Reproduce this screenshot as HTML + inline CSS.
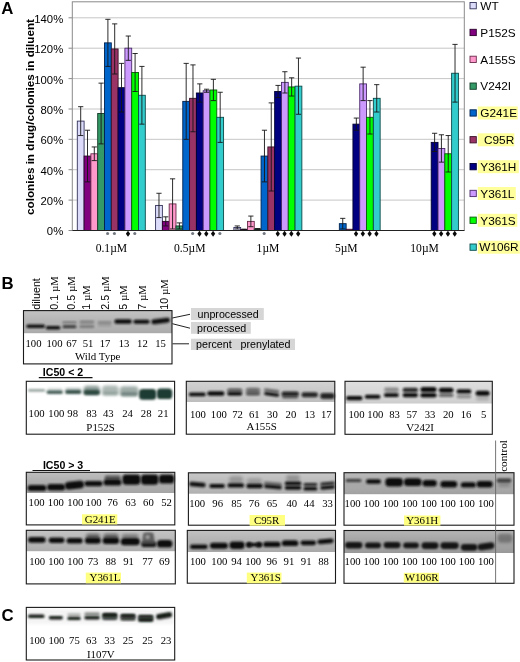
<!DOCTYPE html>
<html><head><meta charset="utf-8"><title>Figure</title>
<style>
html,body{margin:0;padding:0;background:#fff;}
body{width:520px;height:662px;overflow:hidden;font-family:"Liberation Sans",sans-serif;}
svg{display:block;filter:blur(0.4px)}
.s{font-family:"Liberation Sans",sans-serif;}
.sb{font-family:"Liberation Sans",sans-serif;font-weight:bold;}
.t{font-family:"Liberation Serif",serif;}
</style></head><body>
<svg width="520" height="662" viewBox="0 0 520 662">
<defs>
<linearGradient id="gg" x1="0" y1="0" x2="0" y2="1"><stop offset="0" stop-color="#fff" stop-opacity=".22"/><stop offset=".55" stop-color="#fff" stop-opacity="0"/><stop offset="1" stop-color="#000" stop-opacity=".05"/></linearGradient>
<filter id="b1" x="-20%" y="-50%" width="140%" height="200%"><feGaussianBlur stdDeviation="0.9"/></filter>
<filter id="b2" x="-20%" y="-50%" width="140%" height="200%"><feGaussianBlur stdDeviation="1.5"/></filter>
<filter id="b3" x="-20%" y="-50%" width="140%" height="200%"><feGaussianBlur stdDeviation="1.8"/></filter>
</defs>
<rect x="0" y="0" width="520" height="662" fill="#fff"/>
<line x1="72.3" y1="200.1" x2="464.3" y2="200.1" stroke="#c6c6c6" stroke-width="1"/>
<line x1="72.3" y1="169.7" x2="464.3" y2="169.7" stroke="#c6c6c6" stroke-width="1"/>
<line x1="72.3" y1="139.3" x2="464.3" y2="139.3" stroke="#c6c6c6" stroke-width="1"/>
<line x1="72.3" y1="109.0" x2="464.3" y2="109.0" stroke="#c6c6c6" stroke-width="1"/>
<line x1="72.3" y1="78.6" x2="464.3" y2="78.6" stroke="#c6c6c6" stroke-width="1"/>
<line x1="72.3" y1="48.2" x2="464.3" y2="48.2" stroke="#c6c6c6" stroke-width="1"/>
<line x1="72.3" y1="17.8" x2="464.3" y2="17.8" stroke="#c6c6c6" stroke-width="1"/>
<rect x="72.3" y="1.8" width="392.0" height="228.7" fill="none" stroke="#8a8a8a" stroke-width="1"/>
<rect x="77.30" y="121.11" width="6.80" height="109.39" fill="#DCDCFA" stroke="#33335a" stroke-width="0.9"/>
<rect x="84.10" y="156.06" width="6.80" height="74.44" fill="#800080" stroke="#2a002a" stroke-width="0.9"/>
<rect x="90.90" y="153.78" width="6.80" height="76.72" fill="#FF99CC" stroke="#6a2a4a" stroke-width="0.9"/>
<rect x="97.70" y="113.52" width="6.80" height="116.98" fill="#339966" stroke="#103a25" stroke-width="0.9"/>
<rect x="104.50" y="42.87" width="6.80" height="187.63" fill="#0066CC" stroke="#00224d" stroke-width="0.9"/>
<rect x="111.30" y="48.95" width="6.80" height="181.55" fill="#993366" stroke="#3a1026" stroke-width="0.9"/>
<rect x="118.10" y="87.69" width="6.80" height="142.81" fill="#000080" stroke="#000030" stroke-width="0.9"/>
<rect x="124.90" y="48.19" width="6.80" height="182.31" fill="#CC99FF" stroke="#4a2a6a" stroke-width="0.9"/>
<rect x="131.70" y="72.49" width="6.80" height="158.01" fill="#00FF00" stroke="#0a5a0a" stroke-width="0.9"/>
<rect x="138.50" y="95.28" width="6.80" height="135.22" fill="#33CCCC" stroke="#0a4a4a" stroke-width="0.9"/>
<path d="M80.70 106.68V135.54M78.10 106.68H83.30M78.10 135.54H83.30" stroke="#151515" stroke-width="0.9" fill="none"/>
<path d="M87.50 130.23V181.88M84.90 130.23H90.10M84.90 181.88H90.10" stroke="#151515" stroke-width="0.9" fill="none"/>
<path d="M94.30 146.94V160.61M91.70 146.94H96.90M91.70 160.61H96.90" stroke="#151515" stroke-width="0.9" fill="none"/>
<path d="M101.10 83.13V143.90M98.50 83.13H103.70M98.50 143.90H103.70" stroke="#151515" stroke-width="0.9" fill="none"/>
<path d="M107.90 19.32V66.42M105.30 19.32H110.50M105.30 66.42H110.50" stroke="#151515" stroke-width="0.9" fill="none"/>
<path d="M114.70 23.88V74.01M112.10 23.88H117.30M112.10 74.01H117.30" stroke="#151515" stroke-width="0.9" fill="none"/>
<path d="M121.50 63.38V112.00M118.90 63.38H124.10M118.90 112.00H124.10" stroke="#151515" stroke-width="0.9" fill="none"/>
<path d="M128.30 36.03V60.34M125.70 36.03H130.90M125.70 60.34H130.90" stroke="#151515" stroke-width="0.9" fill="none"/>
<path d="M135.10 53.50V91.49M132.50 53.50H137.70M132.50 91.49H137.70" stroke="#151515" stroke-width="0.9" fill="none"/>
<path d="M141.90 66.42V124.15M139.30 66.42H144.50M139.30 124.15H144.50" stroke="#151515" stroke-width="0.9" fill="none"/>
<rect x="155.58" y="205.43" width="6.80" height="25.07" fill="#DCDCFA" stroke="#33335a" stroke-width="0.9"/>
<rect x="162.38" y="221.38" width="6.80" height="9.12" fill="#800080" stroke="#2a002a" stroke-width="0.9"/>
<rect x="169.18" y="203.91" width="6.80" height="26.59" fill="#FF99CC" stroke="#6a2a4a" stroke-width="0.9"/>
<rect x="175.98" y="225.94" width="6.80" height="4.56" fill="#339966" stroke="#103a25" stroke-width="0.9"/>
<rect x="182.78" y="101.36" width="6.80" height="129.14" fill="#0066CC" stroke="#00224d" stroke-width="0.9"/>
<rect x="189.58" y="98.32" width="6.80" height="132.18" fill="#993366" stroke="#3a1026" stroke-width="0.9"/>
<rect x="196.38" y="93.00" width="6.80" height="137.50" fill="#000080" stroke="#000030" stroke-width="0.9"/>
<rect x="203.18" y="90.73" width="6.80" height="139.77" fill="#CC99FF" stroke="#4a2a6a" stroke-width="0.9"/>
<rect x="209.98" y="89.97" width="6.80" height="140.53" fill="#00FF00" stroke="#0a5a0a" stroke-width="0.9"/>
<rect x="216.78" y="117.31" width="6.80" height="113.19" fill="#33CCCC" stroke="#0a4a4a" stroke-width="0.9"/>
<path d="M158.98 193.28V217.59M156.38 193.28H161.58M156.38 217.59H161.58" stroke="#151515" stroke-width="0.9" fill="none"/>
<path d="M165.78 216.83V225.94M163.18 216.83H168.38M163.18 225.94H168.38" stroke="#151515" stroke-width="0.9" fill="none"/>
<path d="M172.58 178.84V228.98M169.98 178.84H175.18M169.98 228.98H175.18" stroke="#151515" stroke-width="0.9" fill="none"/>
<path d="M179.38 222.90V228.98M176.78 222.90H181.98M176.78 228.98H181.98" stroke="#151515" stroke-width="0.9" fill="none"/>
<path d="M186.18 63.38V139.34M183.58 63.38H188.78M183.58 139.34H188.78" stroke="#151515" stroke-width="0.9" fill="none"/>
<path d="M192.98 64.90V131.75M190.38 64.90H195.58M190.38 131.75H195.58" stroke="#151515" stroke-width="0.9" fill="none"/>
<path d="M199.78 83.89V102.12M197.18 83.89H202.38M197.18 102.12H202.38" stroke="#151515" stroke-width="0.9" fill="none"/>
<path d="M206.58 89.21V92.25M203.98 89.21H209.18M203.98 92.25H209.18" stroke="#151515" stroke-width="0.9" fill="none"/>
<path d="M213.38 79.33V100.60M210.78 79.33H215.98M210.78 100.60H215.98" stroke="#151515" stroke-width="0.9" fill="none"/>
<path d="M220.18 92.25V142.38M217.58 92.25H222.78M217.58 142.38H222.78" stroke="#151515" stroke-width="0.9" fill="none"/>
<rect x="233.86" y="227.46" width="6.80" height="3.04" fill="#DCDCFA" stroke="#33335a" stroke-width="0.9"/>
<rect x="240.66" y="229.59" width="6.80" height="0.91" fill="#800080" stroke="#2a002a" stroke-width="0.9"/>
<rect x="247.46" y="221.38" width="6.80" height="9.12" fill="#FF99CC" stroke="#6a2a4a" stroke-width="0.9"/>
<rect x="254.26" y="228.98" width="6.80" height="1.52" fill="#339966" stroke="#103a25" stroke-width="0.9"/>
<rect x="261.06" y="156.06" width="6.80" height="74.44" fill="#0066CC" stroke="#00224d" stroke-width="0.9"/>
<rect x="267.86" y="146.94" width="6.80" height="83.56" fill="#993366" stroke="#3a1026" stroke-width="0.9"/>
<rect x="274.66" y="91.49" width="6.80" height="139.01" fill="#000080" stroke="#000030" stroke-width="0.9"/>
<rect x="281.46" y="82.37" width="6.80" height="148.13" fill="#CC99FF" stroke="#4a2a6a" stroke-width="0.9"/>
<rect x="288.26" y="86.93" width="6.80" height="143.57" fill="#00FF00" stroke="#0a5a0a" stroke-width="0.9"/>
<rect x="295.06" y="86.17" width="6.80" height="144.33" fill="#33CCCC" stroke="#0a4a4a" stroke-width="0.9"/>
<path d="M237.26 225.94V228.98M234.66 225.94H239.86M234.66 228.98H239.86" stroke="#151515" stroke-width="0.9" fill="none"/>
<path d="M244.06 229.13V230.04M241.46 229.13H246.66M241.46 230.04H246.66" stroke="#151515" stroke-width="0.9" fill="none"/>
<path d="M250.86 216.07V226.70M248.26 216.07H253.46M248.26 226.70H253.46" stroke="#151515" stroke-width="0.9" fill="none"/>
<path d="M257.66 228.52V229.44M255.06 228.52H260.26M255.06 229.44H260.26" stroke="#151515" stroke-width="0.9" fill="none"/>
<path d="M264.46 130.23V181.88M261.86 130.23H267.06M261.86 181.88H267.06" stroke="#151515" stroke-width="0.9" fill="none"/>
<path d="M271.26 102.88V191.00M268.66 102.88H273.86M268.66 191.00H273.86" stroke="#151515" stroke-width="0.9" fill="none"/>
<path d="M278.06 85.41V97.56M275.46 85.41H280.66M275.46 97.56H280.66" stroke="#151515" stroke-width="0.9" fill="none"/>
<path d="M284.86 71.73V93.00M282.26 71.73H287.46M282.26 93.00H287.46" stroke="#151515" stroke-width="0.9" fill="none"/>
<path d="M291.66 77.81V96.04M289.06 77.81H294.26M289.06 96.04H294.26" stroke="#151515" stroke-width="0.9" fill="none"/>
<path d="M298.46 58.06V114.27M295.86 58.06H301.06M295.86 114.27H301.06" stroke="#151515" stroke-width="0.9" fill="none"/>
<rect x="339.34" y="223.66" width="6.80" height="6.84" fill="#0066CC" stroke="#00224d" stroke-width="0.9"/>
<rect x="346.14" y="229.28" width="6.80" height="1.22" fill="#993366" stroke="#3a1026" stroke-width="0.9"/>
<rect x="352.94" y="124.15" width="6.80" height="106.35" fill="#000080" stroke="#000030" stroke-width="0.9"/>
<rect x="359.74" y="83.89" width="6.80" height="146.61" fill="#CC99FF" stroke="#4a2a6a" stroke-width="0.9"/>
<rect x="366.54" y="117.31" width="6.80" height="113.19" fill="#00FF00" stroke="#0a5a0a" stroke-width="0.9"/>
<rect x="373.34" y="98.32" width="6.80" height="132.18" fill="#33CCCC" stroke="#0a4a4a" stroke-width="0.9"/>
<path d="M342.74 218.35V228.98M340.14 218.35H345.34M340.14 228.98H345.34" stroke="#151515" stroke-width="0.9" fill="none"/>
<path d="M356.34 118.07V130.23M353.74 118.07H358.94M353.74 130.23H358.94" stroke="#151515" stroke-width="0.9" fill="none"/>
<path d="M363.14 67.18V100.60M360.54 67.18H365.74M360.54 100.60H365.74" stroke="#151515" stroke-width="0.9" fill="none"/>
<path d="M369.94 100.60V134.03M367.34 100.60H372.54M367.34 134.03H372.54" stroke="#151515" stroke-width="0.9" fill="none"/>
<path d="M376.74 84.65V112.00M374.14 84.65H379.34M374.14 112.00H379.34" stroke="#151515" stroke-width="0.9" fill="none"/>
<rect x="431.22" y="142.38" width="6.80" height="88.12" fill="#000080" stroke="#000030" stroke-width="0.9"/>
<rect x="438.02" y="148.46" width="6.80" height="82.04" fill="#CC99FF" stroke="#4a2a6a" stroke-width="0.9"/>
<rect x="444.82" y="153.78" width="6.80" height="76.72" fill="#00FF00" stroke="#0a5a0a" stroke-width="0.9"/>
<rect x="451.62" y="73.25" width="6.80" height="157.25" fill="#33CCCC" stroke="#0a4a4a" stroke-width="0.9"/>
<path d="M434.62 133.27V151.50M432.02 133.27H437.22M432.02 151.50H437.22" stroke="#151515" stroke-width="0.9" fill="none"/>
<path d="M441.42 134.79V162.13M438.82 134.79H444.02M438.82 162.13H444.02" stroke="#151515" stroke-width="0.9" fill="none"/>
<path d="M448.22 135.54V172.01M445.62 135.54H450.82M445.62 172.01H450.82" stroke="#151515" stroke-width="0.9" fill="none"/>
<path d="M455.02 44.39V102.12M452.42 44.39H457.62M452.42 102.12H457.62" stroke="#151515" stroke-width="0.9" fill="none"/>
<line x1="72.3" y1="230.5" x2="464.3" y2="230.5" stroke="#222" stroke-width="1"/>
<circle cx="107.60" cy="233.50" r="1.55" fill="#727882"/>
<circle cx="114.40" cy="233.50" r="1.55" fill="#727882"/>
<path d="M128.00 230.80L130.15 233.80L128.00 236.80L125.85 233.80Z" fill="#0a0a0a"/>
<circle cx="134.80" cy="233.50" r="1.55" fill="#727882"/>
<circle cx="192.68" cy="233.50" r="1.55" fill="#727882"/>
<path d="M199.48 230.80L201.63 233.80L199.48 236.80L197.33 233.80Z" fill="#0a0a0a"/>
<path d="M206.28 230.80L208.43 233.80L206.28 236.80L204.13 233.80Z" fill="#0a0a0a"/>
<path d="M213.08 230.80L215.23 233.80L213.08 236.80L210.93 233.80Z" fill="#0a0a0a"/>
<circle cx="219.88" cy="233.50" r="1.55" fill="#727882"/>
<circle cx="264.16" cy="233.50" r="1.55" fill="#727882"/>
<path d="M277.76 230.80L279.91 233.80L277.76 236.80L275.61 233.80Z" fill="#0a0a0a"/>
<path d="M284.56 230.80L286.71 233.80L284.56 236.80L282.41 233.80Z" fill="#0a0a0a"/>
<path d="M291.36 230.80L293.51 233.80L291.36 236.80L289.21 233.80Z" fill="#0a0a0a"/>
<path d="M298.16 230.80L300.31 233.80L298.16 236.80L296.01 233.80Z" fill="#0a0a0a"/>
<path d="M356.04 230.80L358.19 233.80L356.04 236.80L353.89 233.80Z" fill="#0a0a0a"/>
<path d="M362.84 230.80L364.99 233.80L362.84 236.80L360.69 233.80Z" fill="#0a0a0a"/>
<path d="M369.64 230.80L371.79 233.80L369.64 236.80L367.49 233.80Z" fill="#0a0a0a"/>
<path d="M376.44 230.80L378.59 233.80L376.44 236.80L374.29 233.80Z" fill="#0a0a0a"/>
<path d="M434.32 230.80L436.47 233.80L434.32 236.80L432.17 233.80Z" fill="#0a0a0a"/>
<path d="M441.12 230.80L443.27 233.80L441.12 236.80L438.97 233.80Z" fill="#0a0a0a"/>
<path d="M447.92 230.80L450.07 233.80L447.92 236.80L445.77 233.80Z" fill="#0a0a0a"/>
<path d="M454.72 230.80L456.87 233.80L454.72 236.80L452.57 233.80Z" fill="#0a0a0a"/>
<text x="63.2" y="235.4" class="s" font-size="11.3" text-anchor="end" fill="#000" >0%</text>
<line x1="68.5" y1="230.5" x2="72.3" y2="230.5" stroke="#8a8a8a" stroke-width="1"/>
<text x="63.2" y="205.0" class="s" font-size="11.3" text-anchor="end" fill="#000" >20%</text>
<line x1="68.5" y1="200.1" x2="72.3" y2="200.1" stroke="#8a8a8a" stroke-width="1"/>
<text x="63.2" y="174.6" class="s" font-size="11.3" text-anchor="end" fill="#000" >40%</text>
<line x1="68.5" y1="169.7" x2="72.3" y2="169.7" stroke="#8a8a8a" stroke-width="1"/>
<text x="63.2" y="144.2" class="s" font-size="11.3" text-anchor="end" fill="#000" >60%</text>
<line x1="68.5" y1="139.3" x2="72.3" y2="139.3" stroke="#8a8a8a" stroke-width="1"/>
<text x="63.2" y="113.9" class="s" font-size="11.3" text-anchor="end" fill="#000" >80%</text>
<line x1="68.5" y1="109.0" x2="72.3" y2="109.0" stroke="#8a8a8a" stroke-width="1"/>
<text x="63.2" y="83.5" class="s" font-size="11.3" text-anchor="end" fill="#000" >100%</text>
<line x1="68.5" y1="78.6" x2="72.3" y2="78.6" stroke="#8a8a8a" stroke-width="1"/>
<text x="63.2" y="53.1" class="s" font-size="11.3" text-anchor="end" fill="#000" >120%</text>
<line x1="68.5" y1="48.2" x2="72.3" y2="48.2" stroke="#8a8a8a" stroke-width="1"/>
<text x="63.2" y="22.7" class="s" font-size="11.3" text-anchor="end" fill="#000" >140%</text>
<line x1="68.5" y1="17.8" x2="72.3" y2="17.8" stroke="#8a8a8a" stroke-width="1"/>
<text class="sb" font-size="11.8" fill="#000" text-anchor="middle" textLength="196" lengthAdjust="spacingAndGlyphs" transform="translate(33.8,117) rotate(-90)">colonies in drug/colonies in diluent</text>
<text x="1.3" y="13.6" class="sb" font-size="16.8" text-anchor="start" fill="#000" >A</text>
<text x="111.4" y="251.5" class="t" font-size="11.6" text-anchor="middle" fill="#000" >0.1µM</text>
<text x="189.7" y="251.5" class="t" font-size="11.6" text-anchor="middle" fill="#000" >0.5µM</text>
<text x="268.0" y="251.5" class="t" font-size="11.6" text-anchor="middle" fill="#000" >1µM</text>
<text x="346.3" y="251.5" class="t" font-size="11.6" text-anchor="middle" fill="#000" >5µM</text>
<text x="424.6" y="251.5" class="t" font-size="11.6" text-anchor="middle" fill="#000" >10µM</text>
<rect x="470" y="2.5" width="6.3" height="6.3" fill="#DCDCFA" stroke="#33335a" stroke-width="0.9"/>
<text x="480.3" y="9.9" class="s" font-size="11.8" text-anchor="start" fill="#000" >WT</text>
<rect x="470" y="29.3" width="6.3" height="6.3" fill="#800080" stroke="#2a002a" stroke-width="0.9"/>
<text x="480.3" y="36.7" class="s" font-size="11.8" text-anchor="start" fill="#000" >P152S</text>
<rect x="470" y="56.2" width="6.3" height="6.3" fill="#FF99CC" stroke="#6a2a4a" stroke-width="0.9"/>
<text x="480.3" y="63.6" class="s" font-size="11.8" text-anchor="start" fill="#000" >A155S</text>
<rect x="470" y="83.0" width="6.3" height="6.3" fill="#339966" stroke="#103a25" stroke-width="0.9"/>
<text x="480.3" y="90.4" class="s" font-size="11.8" text-anchor="start" fill="#000" >V242I</text>
<rect x="477.8" y="106.5" width="40" height="13" fill="#FFFF9C"/>
<rect x="470" y="109.8" width="6.3" height="6.3" fill="#0066CC" stroke="#00224d" stroke-width="0.9"/>
<text x="480.3" y="117.2" class="s" font-size="11.8" text-anchor="start" fill="#000" >G241E</text>
<rect x="477.8" y="133.3" width="36.5" height="13" fill="#FFFF9C"/>
<rect x="470" y="136.6" width="6.3" height="6.3" fill="#993366" stroke="#3a1026" stroke-width="0.9"/>
<text x="484" y="144.0" class="s" font-size="11.8" text-anchor="start" fill="#000" >C95R</text>
<rect x="477.8" y="160.2" width="41" height="13" fill="#FFFF9C"/>
<rect x="470" y="163.5" width="6.3" height="6.3" fill="#000080" stroke="#000030" stroke-width="0.9"/>
<text x="480.3" y="170.9" class="s" font-size="11.8" text-anchor="start" fill="#000" >Y361H</text>
<rect x="477.8" y="187.0" width="38" height="13" fill="#FFFF9C"/>
<rect x="470" y="190.3" width="6.3" height="6.3" fill="#CC99FF" stroke="#4a2a6a" stroke-width="0.9"/>
<text x="480.3" y="197.7" class="s" font-size="11.8" text-anchor="start" fill="#000" >Y361L</text>
<rect x="477.8" y="213.8" width="39.5" height="13" fill="#FFFF9C"/>
<rect x="470" y="217.1" width="6.3" height="6.3" fill="#00FF00" stroke="#0a5a0a" stroke-width="0.9"/>
<text x="480.3" y="224.5" class="s" font-size="11.8" text-anchor="start" fill="#000" >Y361S</text>
<rect x="477.8" y="240.7" width="42" height="13" fill="#FFFF9C"/>
<rect x="470" y="244.0" width="6.3" height="6.3" fill="#33CCCC" stroke="#0a4a4a" stroke-width="0.9"/>
<text x="479.3" y="251.4" class="s" font-size="11.8" text-anchor="start" fill="#000" >W106R</text>
<text x="1.5" y="289.2" class="sb" font-size="16.8" text-anchor="start" fill="#000" >B</text>
<text x="1.5" y="621" class="sb" font-size="16.8" text-anchor="start" fill="#000" >C</text>
<text class="s" font-size="10.7" fill="#000" transform="translate(40,309.7) rotate(-90)">diluent<tspan class="t" font-size="10.5"></tspan></text>
<text class="s" font-size="10.7" fill="#000" transform="translate(58,309.7) rotate(-90)">0.1 <tspan class="t" font-size="10.5">µM</tspan></text>
<text class="s" font-size="10.7" fill="#000" transform="translate(74.5,309.7) rotate(-90)">0.5 <tspan class="t" font-size="10.5">µM</tspan></text>
<text class="s" font-size="10.7" fill="#000" transform="translate(89.5,309.7) rotate(-90)">1 <tspan class="t" font-size="10.5">µM</tspan></text>
<text class="s" font-size="10.7" fill="#000" transform="translate(108.7,309.7) rotate(-90)">2.5 <tspan class="t" font-size="10.5">µM</tspan></text>
<text class="s" font-size="10.7" fill="#000" transform="translate(127,309.7) rotate(-90)">5 <tspan class="t" font-size="10.5">µM</tspan></text>
<text class="s" font-size="10.7" fill="#000" transform="translate(146.2,309.7) rotate(-90)">7 <tspan class="t" font-size="10.5">µM</tspan></text>
<text class="s" font-size="10.7" fill="#000" transform="translate(168,309.7) rotate(-90)">10 <tspan class="t" font-size="10.5">µM</tspan></text>
<rect x="23.5" y="310.6" width="148.5" height="22.6" fill="#b2b2b2"/>
<rect x="23.5" y="310.6" width="148.5" height="22.6" fill="url(#gg)"/>
<rect x="26.4" y="324.5" width="18.6" height="3.4" rx="1.7" fill="#101010" opacity="1" filter="url(#b1)"/>
<rect x="45.8" y="326.0" width="14.6" height="3.4" rx="1.7" fill="#101010" opacity="1" filter="url(#b1)"/>
<rect x="62.6" y="325.5" width="13.8" height="2.6" rx="1.3" fill="#0a0a0a" opacity="0.85" filter="url(#b1)"/>
<rect x="62.6" y="321.3" width="13.8" height="2.4" rx="1.2" fill="#0a0a0a" opacity="0.35" filter="url(#b1)"/>
<rect x="79.6" y="320.7" width="14.6" height="2.6" rx="1.3" fill="#0a0a0a" opacity="0.35" filter="url(#b1)"/>
<rect x="79.6" y="325.2" width="14.6" height="2.6" rx="1.3" fill="#0a0a0a" opacity="0.4" filter="url(#b1)"/>
<rect x="97.9" y="321.2" width="13.5" height="2.6" rx="1.3" fill="#0a0a0a" opacity="0.3" filter="url(#b1)"/>
<rect x="97.9" y="324.4" width="13.5" height="2.2" rx="1.1" fill="#0a0a0a" opacity="0.15" filter="url(#b1)"/>
<rect x="114.4" y="319.3" width="17.4" height="4.4" rx="2.2" fill="#101010" opacity="1" filter="url(#b1)"/>
<rect x="133.4" y="319.8" width="16.2" height="3.9" rx="1.9" fill="#101010" opacity="1" filter="url(#b1)"/>
<rect x="151.3" y="318.6" width="18.7" height="4.9" rx="2.5" fill="#101010" opacity="1" filter="url(#b1)" transform="rotate(-7 160.6 321.0)"/>
<rect x="23.5" y="310.6" width="148.5" height="53.3" fill="none" stroke="#1a1a1a" stroke-width="1.1"/>
<text x="33.5" y="346.9" class="t" font-size="10.7" text-anchor="middle" fill="#000" >100</text>
<text x="54.5" y="346.9" class="t" font-size="10.7" text-anchor="middle" fill="#000" >100</text>
<text x="71.5" y="346.9" class="t" font-size="10.7" text-anchor="middle" fill="#000" >67</text>
<text x="88.0" y="346.9" class="t" font-size="10.7" text-anchor="middle" fill="#000" >51</text>
<text x="105.0" y="346.9" class="t" font-size="10.7" text-anchor="middle" fill="#000" >17</text>
<text x="124.0" y="346.9" class="t" font-size="10.7" text-anchor="middle" fill="#000" >13</text>
<text x="142.4" y="346.9" class="t" font-size="10.7" text-anchor="middle" fill="#000" >12</text>
<text x="160.6" y="346.9" class="t" font-size="10.7" text-anchor="middle" fill="#000" >15</text>
<text x="97.7" y="359.5" class="t" font-size="10.9" text-anchor="middle" fill="#000" >Wild Type</text>
<rect x="191" y="308" width="72.8" height="12.0" fill="#d6d6d6"/>
<text x="197.5" y="317.6" class="s" font-size="10.7" text-anchor="start" fill="#000" >unprocessed</text>
<rect x="191" y="322" width="59.8" height="11.8" fill="#d6d6d6"/>
<text x="197" y="331.5" class="s" font-size="10.7" text-anchor="start" fill="#000" >processed</text>
<rect x="191" y="338.7" width="104.0" height="11.3" fill="#d6d6d6"/>
<text x="196" y="348.0" class="s" font-size="10.7" text-anchor="start" fill="#000" >percent&#160;&#160; prenylated</text>
<path d="M172.3 318L190 314.3M172.3 323.7L190 328.2M172.5 343.8H189" stroke="#222" stroke-width="1" fill="none"/>
<text x="63" y="375.8" class="sb" font-size="10.6" text-anchor="middle" fill="#000" >IC50 &lt; 2</text>
<line x1="38.8" y1="377.6" x2="92.5" y2="377.6" stroke="#111" stroke-width="1.2"/>
<text x="63.1" y="468.5" class="sb" font-size="10.6" text-anchor="middle" fill="#000" >IC50 &gt; 3</text>
<line x1="32.5" y1="470.5" x2="90" y2="470.5" stroke="#111" stroke-width="1.2"/>
<rect x="28.0" y="389.0" width="17.1" height="2.8" rx="1.4" fill="#1c3a30" opacity="0.45" filter="url(#b1)"/>
<rect x="46.6" y="390.4" width="16.3" height="3.5" rx="1.8" fill="#1c3a30" opacity="0.8" filter="url(#b1)"/>
<rect x="46.6" y="388.3" width="16.3" height="3.0" rx="1.5" fill="#1c3a30" opacity="0.2" filter="url(#b2)"/>
<rect x="65.1" y="390.1" width="16.3" height="3.8" rx="1.9" fill="#1c3a30" opacity="0.85" filter="url(#b1)"/>
<rect x="65.1" y="387.8" width="16.3" height="3.5" rx="1.8" fill="#1c3a30" opacity="0.3" filter="url(#b2)"/>
<rect x="83.6" y="385.8" width="16.3" height="9.0" rx="3.6" fill="#1c3a30" opacity="0.5" filter="url(#b2)"/>
<rect x="83.6" y="390.0" width="16.3" height="5.0" rx="2.5" fill="#1c3a30" opacity="0.85" filter="url(#b1)"/>
<rect x="102.1" y="385.5" width="16.5" height="10.0" rx="3.6" fill="#1c3a30" opacity="0.36" filter="url(#b2)"/>
<rect x="102.1" y="391.8" width="16.5" height="3.5" rx="1.8" fill="#1c3a30" opacity="0.18" filter="url(#b1)"/>
<rect x="119.8" y="386.3" width="18.6" height="10.0" rx="3.6" fill="#1c3a30" opacity="0.42" filter="url(#b2)"/>
<rect x="120.6" y="392.3" width="17.3" height="4.0" rx="2.0" fill="#1c3a30" opacity="0.35" filter="url(#b1)"/>
<rect x="139.1" y="388.9" width="17.1" height="10.9" rx="3.6" fill="#1c3a30" opacity="1" filter="url(#b1)"/>
<rect x="156.9" y="388.6" width="15.3" height="10.4" rx="3.6" fill="#1c3a30" opacity="1" filter="url(#b1)"/>
<rect x="26.3" y="381.3" width="148.3" height="52.9" fill="none" stroke="#1a1a1a" stroke-width="1.1"/>
<text x="36.6" y="417.3" class="t" font-size="10.7" text-anchor="middle" fill="#000" >100</text>
<text x="56.3" y="417.3" class="t" font-size="10.7" text-anchor="middle" fill="#000" >100</text>
<text x="72.7" y="417.3" class="t" font-size="10.7" text-anchor="middle" fill="#000" >98</text>
<text x="91.6" y="417.3" class="t" font-size="10.7" text-anchor="middle" fill="#000" >83</text>
<text x="108.3" y="417.3" class="t" font-size="10.7" text-anchor="middle" fill="#000" >43</text>
<text x="127.6" y="417.3" class="t" font-size="10.7" text-anchor="middle" fill="#000" >24</text>
<text x="146.2" y="417.3" class="t" font-size="10.7" text-anchor="middle" fill="#000" >28</text>
<text x="163.2" y="417.3" class="t" font-size="10.7" text-anchor="middle" fill="#000" >21</text>
<text x="100.6" y="431" class="t" font-size="10.9" text-anchor="middle" fill="#000" >P152S</text>
<rect x="186.3" y="381.3" width="148.5" height="20.7" fill="#c6c6c6"/>
<rect x="186.3" y="381.3" width="148.5" height="20.7" fill="url(#gg)"/>
<rect x="188.9" y="392.4" width="16.8" height="3.9" rx="1.9" fill="#101010" opacity="1" filter="url(#b1)"/>
<rect x="207.3" y="391.3" width="17.1" height="4.4" rx="2.2" fill="#101010" opacity="1" filter="url(#b1)"/>
<rect x="227.4" y="392.0" width="14.7" height="3.6" rx="1.8" fill="#101010" opacity="1" filter="url(#b1)"/>
<rect x="227.4" y="388.7" width="14.7" height="3.0" rx="1.5" fill="#0a0a0a" opacity="0.45" filter="url(#b1)"/>
<rect x="246.0" y="388.0" width="14.0" height="7.0" rx="3.5" fill="#0a0a0a" opacity="0.35" filter="url(#b2)"/>
<rect x="246.0" y="388.3" width="14.0" height="3.0" rx="1.5" fill="#0a0a0a" opacity="0.3" filter="url(#b1)"/>
<rect x="246.0" y="392.3" width="14.0" height="3.0" rx="1.5" fill="#0a0a0a" opacity="0.5" filter="url(#b1)"/>
<rect x="227.4" y="388.6" width="14.7" height="6.0" rx="3.0" fill="#0a0a0a" opacity="0.3" filter="url(#b2)"/>
<rect x="264.1" y="389.2" width="15.1" height="2.8" rx="1.4" fill="#0a0a0a" opacity="0.55" filter="url(#b1)" transform="rotate(8 271.6 390.6)"/>
<rect x="264.1" y="392.6" width="15.1" height="3.4" rx="1.7" fill="#101010" opacity="1" filter="url(#b1)" transform="rotate(8 271.6 394.3)"/>
<rect x="281.5" y="391.4" width="17.4" height="4.5" rx="2.2" fill="#0a0a0a" opacity="0.86" filter="url(#b1)"/>
<rect x="281.9" y="394.9" width="16.5" height="3.5" rx="1.8" fill="#0a0a0a" opacity="0.55" filter="url(#b1)"/>
<rect x="301.5" y="392.2" width="16.4" height="5.0" rx="2.5" fill="#0a0a0a" opacity="0.86" filter="url(#b1)"/>
<rect x="320.2" y="393.1" width="14.5" height="5.8" rx="2.9" fill="#0a0a0a" opacity="0.86" filter="url(#b1)"/>
<rect x="186.3" y="381.3" width="148.5" height="52.9" fill="none" stroke="#1a1a1a" stroke-width="1.1"/>
<text x="197.9" y="417.7" class="t" font-size="10.7" text-anchor="middle" fill="#000" >100</text>
<text x="218.8" y="417.7" class="t" font-size="10.7" text-anchor="middle" fill="#000" >100</text>
<text x="237.6" y="417.7" class="t" font-size="10.7" text-anchor="middle" fill="#000" >72</text>
<text x="254.3" y="417.7" class="t" font-size="10.7" text-anchor="middle" fill="#000" >61</text>
<text x="272.4" y="417.7" class="t" font-size="10.7" text-anchor="middle" fill="#000" >30</text>
<text x="290.9" y="417.7" class="t" font-size="10.7" text-anchor="middle" fill="#000" >20</text>
<text x="309.8" y="417.7" class="t" font-size="10.7" text-anchor="middle" fill="#000" >13</text>
<text x="326.3" y="417.7" class="t" font-size="10.7" text-anchor="middle" fill="#000" >17</text>
<text x="261.7" y="430.4" class="t" font-size="10.9" text-anchor="middle" fill="#000" >A155S</text>
<rect x="345" y="381.3" width="147.3" height="22.2" fill="#d6d6d6"/>
<rect x="345" y="381.3" width="147.3" height="22.2" fill="url(#gg)"/>
<rect x="346.1" y="395.9" width="16.5" height="4.4" rx="2.2" fill="#101010" opacity="1" filter="url(#b1)"/>
<rect x="364.8" y="394.8" width="15.6" height="3.9" rx="1.9" fill="#101010" opacity="1" filter="url(#b1)"/>
<rect x="384.0" y="393.2" width="14.7" height="3.9" rx="1.9" fill="#101010" opacity="1" filter="url(#b1)"/>
<rect x="384.0" y="387.3" width="14.7" height="4.0" rx="2.0" fill="#0a0a0a" opacity="0.3" filter="url(#b1)"/>
<rect x="402.6" y="387.8" width="15.4" height="4.5" rx="2.2" fill="#0a0a0a" opacity="0.85" filter="url(#b1)"/>
<rect x="402.6" y="392.9" width="15.4" height="4.4" rx="2.2" fill="#101010" opacity="1" filter="url(#b1)"/>
<rect x="384.6" y="389.3" width="14.3" height="6.0" rx="3.0" fill="#0a0a0a" opacity="0.2" filter="url(#b2)"/>
<rect x="420.4" y="386.9" width="16.2" height="5.4" rx="2.7" fill="#101010" opacity="1" filter="url(#b1)"/>
<rect x="420.4" y="393.0" width="16.2" height="4.4" rx="2.2" fill="#101010" opacity="1" filter="url(#b1)"/>
<rect x="438.8" y="387.8" width="14.7" height="4.9" rx="2.5" fill="#101010" opacity="1" filter="url(#b1)"/>
<rect x="438.8" y="393.6" width="14.7" height="3.4" rx="1.7" fill="#0a0a0a" opacity="0.55" filter="url(#b1)"/>
<rect x="456.6" y="389.2" width="14.7" height="4.4" rx="2.2" fill="#101010" opacity="1" filter="url(#b1)"/>
<rect x="456.6" y="394.8" width="14.7" height="3.4" rx="1.7" fill="#0a0a0a" opacity="0.35" filter="url(#b1)"/>
<rect x="475.6" y="390.8" width="14.1" height="5.0" rx="2.5" fill="#101010" opacity="1" filter="url(#b1)"/>
<rect x="476.1" y="396.3" width="13.3" height="4.0" rx="2.0" fill="#0a0a0a" opacity="0.22" filter="url(#b2)"/>
<rect x="345" y="381.3" width="147.3" height="53.0" fill="none" stroke="#1a1a1a" stroke-width="1.1"/>
<text x="356.5" y="417.7" class="t" font-size="10.7" text-anchor="middle" fill="#000" >100</text>
<text x="375.3" y="417.7" class="t" font-size="10.7" text-anchor="middle" fill="#000" >100</text>
<text x="394.5" y="417.7" class="t" font-size="10.7" text-anchor="middle" fill="#000" >83</text>
<text x="411.8" y="417.7" class="t" font-size="10.7" text-anchor="middle" fill="#000" >57</text>
<text x="430.0" y="417.7" class="t" font-size="10.7" text-anchor="middle" fill="#000" >33</text>
<text x="448.3" y="417.7" class="t" font-size="10.7" text-anchor="middle" fill="#000" >20</text>
<text x="466.0" y="417.7" class="t" font-size="10.7" text-anchor="middle" fill="#000" >16</text>
<text x="483.6" y="417.7" class="t" font-size="10.7" text-anchor="middle" fill="#000" >5</text>
<text x="420.1" y="430.8" class="t" font-size="10.9" text-anchor="middle" fill="#000" >V242I</text>
<rect x="26.3" y="472.3" width="148.5" height="20.7" fill="#acacac"/>
<rect x="26.3" y="472.3" width="148.5" height="20.7" fill="url(#gg)"/>
<rect x="27.6" y="484.9" width="18.8" height="6.2" rx="3.1" fill="#101010" opacity="1" filter="url(#b1)"/>
<rect x="47.1" y="484.0" width="18.0" height="6.4" rx="3.2" fill="#101010" opacity="1" filter="url(#b1)"/>
<rect x="64.9" y="481.2" width="19.1" height="7.9" rx="3.6" fill="#101010" opacity="1" filter="url(#b1)" transform="rotate(-6 74.4 485.2)"/>
<rect x="84.4" y="481.0" width="18.2" height="5.2" rx="2.6" fill="#101010" opacity="1" filter="url(#b1)"/>
<rect x="103.6" y="479.2" width="17.8" height="6.4" rx="3.2" fill="#101010" opacity="1" filter="url(#b1)"/>
<rect x="104.6" y="475.4" width="16.1" height="4.5" rx="2.2" fill="#0a0a0a" opacity="0.55" filter="url(#b1)"/>
<rect x="122.4" y="474.5" width="18.0" height="10.2" rx="3.6" fill="#101010" opacity="1" filter="url(#b1)"/>
<rect x="141.0" y="474.5" width="17.4" height="10.2" rx="3.6" fill="#101010" opacity="1" filter="url(#b1)"/>
<rect x="159.0" y="474.5" width="15.2" height="9.0" rx="3.6" fill="#101010" opacity="1" filter="url(#b1)"/>
<rect x="26.3" y="472.3" width="148.5" height="52.6" fill="none" stroke="#1a1a1a" stroke-width="1.1"/>
<text x="36.6" y="506.3" class="t" font-size="10.7" text-anchor="middle" fill="#000" >100</text>
<text x="55.8" y="506.3" class="t" font-size="10.7" text-anchor="middle" fill="#000" >100</text>
<text x="75.3" y="506.3" class="t" font-size="10.7" text-anchor="middle" fill="#000" >100</text>
<text x="93.6" y="506.3" class="t" font-size="10.7" text-anchor="middle" fill="#000" >100</text>
<text x="112.5" y="506.3" class="t" font-size="10.7" text-anchor="middle" fill="#000" >76</text>
<text x="130.7" y="506.3" class="t" font-size="10.7" text-anchor="middle" fill="#000" >63</text>
<text x="148.4" y="506.3" class="t" font-size="10.7" text-anchor="middle" fill="#000" >60</text>
<text x="166.5" y="506.3" class="t" font-size="10.7" text-anchor="middle" fill="#000" >52</text>
<rect x="82" y="514.3" width="35.3" height="10.1" fill="#FFFF80"/>
<text x="100.2" y="523.4" class="t" font-size="10.9" text-anchor="middle" fill="#000" >G241E</text>
<rect x="188.4" y="472.8" width="147.1" height="20.9" fill="#b8b8b8"/>
<rect x="188.4" y="472.8" width="147.1" height="20.9" fill="url(#gg)"/>
<rect x="189.2" y="482.3" width="16.4" height="4.4" rx="2.2" fill="#101010" opacity="1" filter="url(#b1)" transform="rotate(5 197.4 484.5)"/>
<rect x="209.3" y="484.1" width="15.6" height="3.9" rx="1.9" fill="#101010" opacity="1" filter="url(#b1)"/>
<rect x="227.6" y="483.2" width="16.5" height="4.4" rx="2.2" fill="#101010" opacity="1" filter="url(#b1)"/>
<rect x="229.1" y="476.1" width="13.8" height="7.0" rx="3.5" fill="#0a0a0a" opacity="0.22" filter="url(#b2)"/>
<rect x="246.3" y="483.8" width="16.5" height="4.4" rx="2.2" fill="#101010" opacity="1" filter="url(#b1)"/>
<rect x="247.1" y="478.6" width="14.8" height="5.0" rx="2.5" fill="#0a0a0a" opacity="0.2" filter="url(#b2)"/>
<rect x="264.1" y="484.9" width="17.7" height="3.9" rx="1.9" fill="#101010" opacity="1" filter="url(#b1)" transform="rotate(5 272.9 486.9)"/>
<rect x="264.1" y="482.2" width="17.7" height="3.0" rx="1.5" fill="#0a0a0a" opacity="0.5" filter="url(#b1)" transform="rotate(5 272.9 483.7)"/>
<rect x="284.8" y="481.4" width="16.5" height="3.9" rx="1.9" fill="#101010" opacity="1" filter="url(#b1)"/>
<rect x="284.8" y="485.8" width="16.5" height="3.9" rx="1.9" fill="#101010" opacity="1" filter="url(#b1)"/>
<rect x="286.1" y="475.1" width="13.8" height="6.0" rx="3.0" fill="#0a0a0a" opacity="0.25" filter="url(#b2)"/>
<rect x="303.5" y="482.9" width="13.8" height="3.2" rx="1.6" fill="#0a0a0a" opacity="0.85" filter="url(#b1)"/>
<rect x="303.5" y="486.8" width="13.8" height="3.8" rx="1.9" fill="#101010" opacity="1" filter="url(#b1)"/>
<rect x="320.3" y="481.9" width="14.6" height="3.2" rx="1.6" fill="#0a0a0a" opacity="0.85" filter="url(#b1)" transform="rotate(-5 327.6 483.5)"/>
<rect x="320.3" y="485.4" width="14.6" height="3.8" rx="1.9" fill="#101010" opacity="1" filter="url(#b1)" transform="rotate(-5 327.6 487.3)"/>
<rect x="188.4" y="472.8" width="147.1" height="52.4" fill="none" stroke="#1a1a1a" stroke-width="1.1"/>
<text x="197.2" y="507.2" class="t" font-size="10.7" text-anchor="middle" fill="#000" >100</text>
<text x="217.7" y="507.2" class="t" font-size="10.7" text-anchor="middle" fill="#000" >96</text>
<text x="236.6" y="507.2" class="t" font-size="10.7" text-anchor="middle" fill="#000" >85</text>
<text x="254.2" y="507.2" class="t" font-size="10.7" text-anchor="middle" fill="#000" >76</text>
<text x="272.0" y="507.2" class="t" font-size="10.7" text-anchor="middle" fill="#000" >65</text>
<text x="291.8" y="507.2" class="t" font-size="10.7" text-anchor="middle" fill="#000" >40</text>
<text x="309.2" y="507.2" class="t" font-size="10.7" text-anchor="middle" fill="#000" >44</text>
<text x="327.6" y="507.2" class="t" font-size="10.7" text-anchor="middle" fill="#000" >33</text>
<rect x="249.6" y="515" width="35.4" height="10.7" fill="#FFFF80"/>
<text x="266.6" y="524.1" class="t" font-size="10.9" text-anchor="middle" fill="#000" >C95R</text>
<rect x="344" y="472.7" width="170.0" height="21.5" fill="#a8a8a8"/>
<rect x="344" y="472.7" width="170.0" height="21.5" fill="url(#gg)"/>
<rect x="345.6" y="479.0" width="15.8" height="3.0" rx="1.5" fill="#0a0a0a" opacity="0.7" filter="url(#b1)"/>
<rect x="366.0" y="479.3" width="15.0" height="4.4" rx="2.2" fill="#101010" opacity="1" filter="url(#b1)"/>
<rect x="385.3" y="478.0" width="17.7" height="8.4" rx="3.6" fill="#101010" opacity="1" filter="url(#b1)"/>
<rect x="403.9" y="478.2" width="17.7" height="7.9" rx="3.6" fill="#101010" opacity="1" filter="url(#b1)"/>
<rect x="422.5" y="480.0" width="14.3" height="6.4" rx="3.2" fill="#101010" opacity="1" filter="url(#b1)"/>
<rect x="440.4" y="481.0" width="16.8" height="6.4" rx="3.2" fill="#101010" opacity="1" filter="url(#b1)"/>
<rect x="460.8" y="482.2" width="15.0" height="5.4" rx="2.7" fill="#101010" opacity="1" filter="url(#b1)"/>
<rect x="476.6" y="481.0" width="16.1" height="6.4" rx="3.2" fill="#101010" opacity="1" filter="url(#b1)"/>
<rect x="496.6" y="478.5" width="14.8" height="4.0" rx="2.0" fill="#0a0a0a" opacity="0.7" filter="url(#b1)"/>
<rect x="498.1" y="483.0" width="12.3" height="4.0" rx="2.0" fill="#0a0a0a" opacity="0.2" filter="url(#b2)"/>
<rect x="344" y="472.7" width="170.0" height="52.5" fill="none" stroke="#1a1a1a" stroke-width="1.1"/>
<text x="352.6" y="507" class="t" font-size="10.7" text-anchor="middle" fill="#000" >100</text>
<text x="371.6" y="507" class="t" font-size="10.7" text-anchor="middle" fill="#000" >100</text>
<text x="390.7" y="507" class="t" font-size="10.7" text-anchor="middle" fill="#000" >100</text>
<text x="409.7" y="507" class="t" font-size="10.7" text-anchor="middle" fill="#000" >100</text>
<text x="428.8" y="507" class="t" font-size="10.7" text-anchor="middle" fill="#000" >100</text>
<text x="447.8" y="507" class="t" font-size="10.7" text-anchor="middle" fill="#000" >100</text>
<text x="466.8" y="507" class="t" font-size="10.7" text-anchor="middle" fill="#000" >100</text>
<text x="485.9" y="507" class="t" font-size="10.7" text-anchor="middle" fill="#000" >100</text>
<rect x="404" y="515.5" width="36.4" height="10.1" fill="#FFFF80"/>
<text x="422.2" y="524.2" class="t" font-size="10.9" text-anchor="middle" fill="#000" >Y361H</text>
<rect x="26.3" y="530.3" width="149.0" height="20.9" fill="#b4b4b4"/>
<rect x="26.3" y="530.3" width="149.0" height="20.9" fill="url(#gg)"/>
<rect x="28.0" y="536.9" width="17.7" height="5.9" rx="3.0" fill="#101010" opacity="1" filter="url(#b1)"/>
<rect x="48.8" y="537.5" width="15.6" height="5.4" rx="2.7" fill="#101010" opacity="1" filter="url(#b1)"/>
<rect x="66.6" y="538.1" width="16.1" height="5.4" rx="2.7" fill="#101010" opacity="1" filter="url(#b1)"/>
<rect x="84.9" y="537.4" width="15.9" height="6.4" rx="3.2" fill="#101010" opacity="1" filter="url(#b1)"/>
<rect x="86.1" y="533.8" width="13.8" height="5.0" rx="2.5" fill="#0a0a0a" opacity="0.5" filter="url(#b2)"/>
<rect x="102.6" y="537.6" width="16.6" height="6.4" rx="3.2" fill="#101010" opacity="1" filter="url(#b1)"/>
<rect x="103.6" y="533.8" width="14.8" height="5.0" rx="2.5" fill="#0a0a0a" opacity="0.5" filter="url(#b2)"/>
<rect x="120.7" y="537.9" width="19.2" height="7.4" rx="3.6" fill="#101010" opacity="1" filter="url(#b1)"/>
<rect x="122.1" y="534.3" width="16.3" height="4.0" rx="2.0" fill="#0a0a0a" opacity="0.4" filter="url(#b2)"/>
<rect x="141.5" y="541.7" width="14.7" height="5.4" rx="2.7" fill="#101010" opacity="1" filter="url(#b1)"/>
<rect x="156.9" y="540.1" width="15.5" height="7.4" rx="3.6" fill="#101010" opacity="1" filter="url(#b1)"/>
<path d="M141.6 544.5 L143.4 533 Q148.5 531.5 153.4 533 L155.2 544.5Z" fill="#484848" opacity=".8" filter="url(#b1)"/>
<ellipse cx="147.6" cy="537" rx="2.3" ry="2.1" fill="#bdbdbd" opacity=".7" filter="url(#b1)"/>
<rect x="26.3" y="530.3" width="149.0" height="53.6" fill="none" stroke="#1a1a1a" stroke-width="1.1"/>
<text x="37.2" y="565.3" class="t" font-size="10.7" text-anchor="middle" fill="#000" >100</text>
<text x="56.2" y="565.3" class="t" font-size="10.7" text-anchor="middle" fill="#000" >100</text>
<text x="75.3" y="565.3" class="t" font-size="10.7" text-anchor="middle" fill="#000" >100</text>
<text x="93.1" y="565.3" class="t" font-size="10.7" text-anchor="middle" fill="#000" >73</text>
<text x="110.8" y="565.3" class="t" font-size="10.7" text-anchor="middle" fill="#000" >88</text>
<text x="128.6" y="565.3" class="t" font-size="10.7" text-anchor="middle" fill="#000" >91</text>
<text x="147.5" y="565.3" class="t" font-size="10.7" text-anchor="middle" fill="#000" >77</text>
<text x="164.4" y="565.3" class="t" font-size="10.7" text-anchor="middle" fill="#000" >69</text>
<rect x="85.8" y="572.6" width="35.2" height="10.7" fill="#FFFF80"/>
<text x="105" y="581.3" class="t" font-size="10.9" text-anchor="middle" fill="#000" >Y361L</text>
<rect x="187.3" y="530.4" width="148.2" height="21.6" fill="#b0b0b0"/>
<rect x="187.3" y="530.4" width="148.2" height="21.6" fill="url(#gg)"/>
<rect x="190.0" y="544.5" width="17.7" height="4.4" rx="2.2" fill="#101010" opacity="1" filter="url(#b1)"/>
<rect x="209.9" y="542.8" width="18.0" height="5.9" rx="3.0" fill="#101010" opacity="1" filter="url(#b1)"/>
<rect x="229.4" y="541.5" width="15.3" height="7.4" rx="3.6" fill="#101010" opacity="1" filter="url(#b1)"/>
<rect x="246.3" y="542.9" width="15.6" height="3.6" rx="1.8" fill="#101010" opacity="1" filter="url(#b1)"/>
<rect x="246.3" y="542.0" width="5.6" height="5.4" rx="2.7" fill="#101010" opacity="1" filter="url(#b1)"/>
<rect x="256.1" y="542.0" width="5.8" height="5.4" rx="2.7" fill="#101010" opacity="1" filter="url(#b1)"/>
<rect x="263.2" y="541.7" width="17.4" height="5.4" rx="2.7" fill="#101010" opacity="1" filter="url(#b1)"/>
<rect x="281.8" y="540.2" width="16.5" height="5.9" rx="3.0" fill="#101010" opacity="1" filter="url(#b1)"/>
<rect x="300.5" y="540.4" width="15.6" height="4.9" rx="2.5" fill="#101010" opacity="1" filter="url(#b1)"/>
<rect x="317.4" y="538.9" width="16.2" height="4.9" rx="2.5" fill="#101010" opacity="1" filter="url(#b1)" transform="rotate(-5 325.5 541.4)"/>
<rect x="187.3" y="530.4" width="148.2" height="52.8" fill="none" stroke="#1a1a1a" stroke-width="1.1"/>
<text x="197.9" y="565" class="t" font-size="10.7" text-anchor="middle" fill="#000" >100</text>
<text x="219.3" y="565" class="t" font-size="10.7" text-anchor="middle" fill="#000" >100</text>
<text x="236.6" y="565" class="t" font-size="10.7" text-anchor="middle" fill="#000" >94</text>
<text x="253.2" y="565" class="t" font-size="10.7" text-anchor="middle" fill="#000" >100</text>
<text x="271.8" y="565" class="t" font-size="10.7" text-anchor="middle" fill="#000" >96</text>
<text x="288.9" y="565" class="t" font-size="10.7" text-anchor="middle" fill="#000" >91</text>
<text x="306.2" y="565" class="t" font-size="10.7" text-anchor="middle" fill="#000" >91</text>
<text x="323.5" y="565" class="t" font-size="10.7" text-anchor="middle" fill="#000" >88</text>
<rect x="246.8" y="572.6" width="34.7" height="10.7" fill="#FFFF80"/>
<text x="265.7" y="581.3" class="t" font-size="10.9" text-anchor="middle" fill="#000" >Y361S</text>
<rect x="344" y="530.5" width="170.0" height="22.5" fill="#a0a0a0"/>
<rect x="344" y="530.5" width="170.0" height="22.5" fill="url(#gg)"/>
<rect x="345.1" y="542.1" width="17.3" height="6.3" rx="3.1" fill="#000" opacity="0.87" filter="url(#b1)"/>
<rect x="365.0" y="542.4" width="16.0" height="5.8" rx="2.9" fill="#000" opacity="0.87" filter="url(#b1)"/>
<rect x="383.6" y="541.9" width="17.0" height="6.3" rx="3.1" fill="#000" opacity="0.87" filter="url(#b1)"/>
<rect x="403.2" y="542.4" width="15.7" height="5.8" rx="2.9" fill="#000" opacity="0.87" filter="url(#b1)"/>
<rect x="421.5" y="542.2" width="17.0" height="6.8" rx="3.4" fill="#000" opacity="0.87" filter="url(#b1)"/>
<rect x="440.4" y="542.2" width="18.4" height="6.8" rx="3.4" fill="#000" opacity="0.87" filter="url(#b1)"/>
<rect x="460.8" y="543.9" width="16.6" height="6.8" rx="3.4" fill="#000" opacity="0.87" filter="url(#b1)"/>
<rect x="477.6" y="542.9" width="16.8" height="6.8" rx="3.4" fill="#000" opacity="0.87" filter="url(#b1)" transform="rotate(-8 486.0 546.3)"/>
<rect x="497.6" y="533.6" width="14.8" height="8.8" rx="3.6" fill="#000" opacity="0.3" filter="url(#b2)"/>
<rect x="344" y="530.5" width="170.0" height="52.8" fill="none" stroke="#1a1a1a" stroke-width="1.1"/>
<text x="352.6" y="565.2" class="t" font-size="10.7" text-anchor="middle" fill="#000" >100</text>
<text x="371.6" y="565.2" class="t" font-size="10.7" text-anchor="middle" fill="#000" >100</text>
<text x="390.7" y="565.2" class="t" font-size="10.7" text-anchor="middle" fill="#000" >100</text>
<text x="409.7" y="565.2" class="t" font-size="10.7" text-anchor="middle" fill="#000" >100</text>
<text x="428.8" y="565.2" class="t" font-size="10.7" text-anchor="middle" fill="#000" >100</text>
<text x="447.8" y="565.2" class="t" font-size="10.7" text-anchor="middle" fill="#000" >100</text>
<text x="466.8" y="565.2" class="t" font-size="10.7" text-anchor="middle" fill="#000" >100</text>
<text x="485.9" y="565.2" class="t" font-size="10.7" text-anchor="middle" fill="#000" >100</text>
<rect x="403.8" y="572.8" width="35.2" height="9.8" fill="#FFFF80"/>
<text x="421.6" y="580.9" class="t" font-size="10.9" text-anchor="middle" fill="#000" >W106R</text>
<line x1="495.6" y1="440.5" x2="495.6" y2="583.3" stroke="#666" stroke-width="0.9"/>
<text class="t" font-size="11.2" fill="#000" text-anchor="middle" transform="translate(506.7,456) rotate(-90)">control</text>
<rect x="27" y="609" width="147" height="15" fill="#f4f4f4" filter="url(#b3)"/>
<rect x="28.0" y="614.6" width="16.5" height="3.4" rx="1.7" fill="#121a17" opacity="1" filter="url(#b1)"/>
<rect x="48.8" y="616.1" width="14.1" height="3.4" rx="1.7" fill="#121a17" opacity="1" filter="url(#b1)"/>
<rect x="67.4" y="616.7" width="13.3" height="3.4" rx="1.7" fill="#121a17" opacity="1" filter="url(#b1)"/>
<rect x="67.4" y="613.3" width="13.3" height="3.0" rx="1.5" fill="#121a17" opacity="0.3" filter="url(#b1)"/>
<rect x="84.3" y="616.0" width="15.6" height="3.6" rx="1.8" fill="#121a17" opacity="1" filter="url(#b1)"/>
<rect x="84.3" y="612.4" width="15.6" height="3.0" rx="1.5" fill="#121a17" opacity="0.5" filter="url(#b1)"/>
<rect x="102.2" y="613.6" width="15.2" height="6.0" rx="3.0" fill="#121a17" opacity="0.6" filter="url(#b1)"/>
<rect x="102.2" y="613.1" width="15.2" height="3.8" rx="1.9" fill="#121a17" opacity="1" filter="url(#b1)"/>
<rect x="102.2" y="617.2" width="15.2" height="2.8" rx="1.4" fill="#121a17" opacity="0.6" filter="url(#b1)"/>
<rect x="120.4" y="614.2" width="15.2" height="6.0" rx="3.0" fill="#121a17" opacity="0.6" filter="url(#b1)"/>
<rect x="120.4" y="613.9" width="15.2" height="3.6" rx="1.8" fill="#121a17" opacity="1" filter="url(#b1)"/>
<rect x="120.4" y="617.8" width="15.2" height="2.8" rx="1.4" fill="#121a17" opacity="0.6" filter="url(#b1)"/>
<rect x="138.1" y="615.0" width="15.3" height="6.0" rx="3.0" fill="#121a17" opacity="0.6" filter="url(#b1)"/>
<rect x="138.1" y="614.9" width="15.3" height="3.0" rx="1.5" fill="#121a17" opacity="0.85" filter="url(#b1)"/>
<rect x="138.1" y="618.1" width="15.3" height="3.6" rx="1.8" fill="#121a17" opacity="1" filter="url(#b1)"/>
<rect x="156.0" y="613.1" width="16.2" height="5.4" rx="2.7" fill="#121a17" opacity="1" filter="url(#b1)" transform="rotate(-10 164.1 615.8)"/>
<rect x="26.3" y="607.4" width="148.4" height="52.6" fill="none" stroke="#1a1a1a" stroke-width="1.1"/>
<text x="37.2" y="643.7" class="t" font-size="10.7" text-anchor="middle" fill="#000" >100</text>
<text x="56.4" y="643.7" class="t" font-size="10.7" text-anchor="middle" fill="#000" >100</text>
<text x="74.4" y="643.7" class="t" font-size="10.7" text-anchor="middle" fill="#000" >75</text>
<text x="91.4" y="643.7" class="t" font-size="10.7" text-anchor="middle" fill="#000" >63</text>
<text x="109.7" y="643.7" class="t" font-size="10.7" text-anchor="middle" fill="#000" >33</text>
<text x="128.1" y="643.7" class="t" font-size="10.7" text-anchor="middle" fill="#000" >25</text>
<text x="147.5" y="643.7" class="t" font-size="10.7" text-anchor="middle" fill="#000" >25</text>
<text x="166.1" y="643.7" class="t" font-size="10.7" text-anchor="middle" fill="#000" >23</text>
<text x="100.8" y="658.1" class="t" font-size="10.9" text-anchor="middle" fill="#000" >I107V</text>
</svg>
</body></html>
